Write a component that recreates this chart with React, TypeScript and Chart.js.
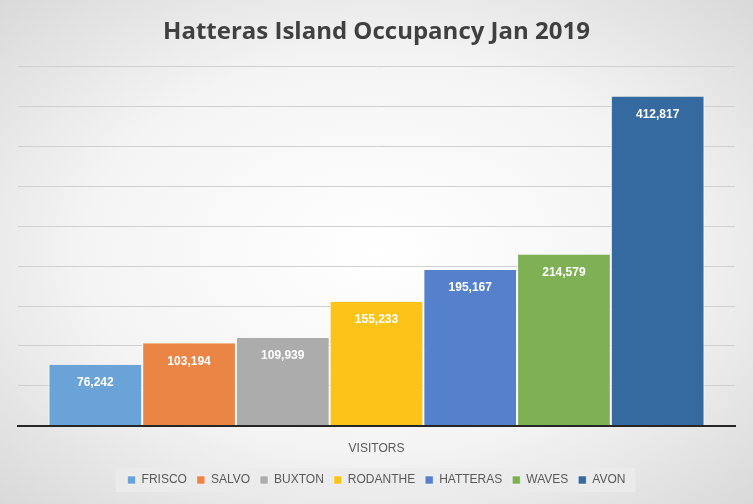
import React, { useEffect, useRef } from 'react';
import { Chart, registerables } from 'chart.js';

Chart.register(...registerables);

const towns = ['FRISCO', 'SALVO', 'BUXTON', 'RODANTHE', 'HATTERAS', 'WAVES', 'AVON'];
const visitors = [76242, 103194, 109939, 155233, 195167, 214579, 412817];
const townColors = ['#6AA3D8', '#EA8545', '#ACACAC', '#FCC419', '#5580CC', '#7DB153', '#346AA0'];
const category = ['VISITORS'];

const barLabels = {
    id: 'barLabels',
    afterDatasetsDraw(chart: Chart) {
        const ctx = chart.ctx;
        ctx.save();
        ctx.font = 'bold 12px "Liberation Sans", Arial, sans-serif';
        ctx.fillStyle = '#ffffff';
        ctx.textAlign = 'center';
        ctx.textBaseline = 'top';
        chart.data.datasets.forEach((ds, i) => {
            const el: any = chart.getDatasetMeta(i).data[0];
            if (!el) return;
            ctx.fillText((ds.data[0] as number).toLocaleString('en-US'), el.x, el.y + 12);
        });
        ctx.restore();
    },
};

const legendBox = {
    id: 'legendBox',
    beforeDraw(chart: any) {
        const lg = chart.legend;
        if (!lg || !lg.legendItems) return;
        const hits = lg.legendHitBoxes;
        if (!hits || !hits.length) return;
        const left = hits[0].left - 12;
        const right = hits[hits.length - 1].left + hits[hits.length - 1].width + 10;
        const ctx = chart.ctx;
        ctx.save();
        ctx.fillStyle = 'rgba(235,235,235,0.9)';
        ctx.fillRect(left, hits[0].top - 6, right - left, hits[0].height + 12);
        ctx.restore();
    },
};

const App: React.FC = () => {
    const canvasRef = useRef<HTMLCanvasElement | null>(null);

    useEffect(() => {
        const canvas = canvasRef.current;
        if (!canvas) return;
        const chart = new Chart(canvas, {
            type: 'bar',
            data: {
                labels: category,
                datasets: towns.map((t, i) => ({
                    label: t,
                    data: [visitors[i]],
                    backgroundColor: townColors[i],
                    borderColor: '#ffffff',
                    borderWidth: { left: 1, right: 1, top: 0, bottom: 0 } as any,
                    categoryPercentage: 0.915,
                    barPercentage: 1,
                })),
            },
            options: {
                animation: false,
                responsive: true,
                maintainAspectRatio: false,
                layout: { padding: { left: 18, right: 18, top: 12, bottom: 8 } },
                plugins: {
                    title: {
                        display: true,
                        text: 'Hatteras Island Occupancy Jan 2019',
                        color: '#404040',
                        font: { family: '"Open Sans", sans-serif', size: 24, weight: 'bold' },
                        padding: { top: 6, bottom: 20 },
                    },
                    legend: {
                        position: 'bottom',
                        labels: {
                            boxWidth: 8,
                            boxHeight: 8,
                            color: '#595959',
                            font: { family: '"Liberation Sans", Arial, sans-serif', size: 12 },
                            padding: 10,
                        },
                    },
                    tooltip: { enabled: false },
                },
                scales: {
                    x: {
                        grid: { display: false },
                        border: { color: '#262626', width: 2 },
                        ticks: { color: '#595959', font: { family: '"Liberation Sans", Arial, sans-serif', size: 12 }, padding: 8 },
                    },
                    y: {
                        min: 0,
                        max: 450000,
                        ticks: { display: false, stepSize: 50000 },
                        grid: { color: '#d0d0d0', drawTicks: false },
                        border: { display: false },
                    },
                },
            },
            plugins: [barLabels, legendBox],
        });
        return () => chart.destroy();
    }, []);

    return (
        <div
            style={{
                position: 'fixed',
                left: 0,
                top: 0,
                width: 753,
                height: 504,
                background: 'radial-gradient(ellipse at center, #ffffff 0%, #f4f4f4 55%, #d9d9d9 100%)',
            }}
        >
            <canvas ref={canvasRef} />
        </div>
    );
};

export default App;
